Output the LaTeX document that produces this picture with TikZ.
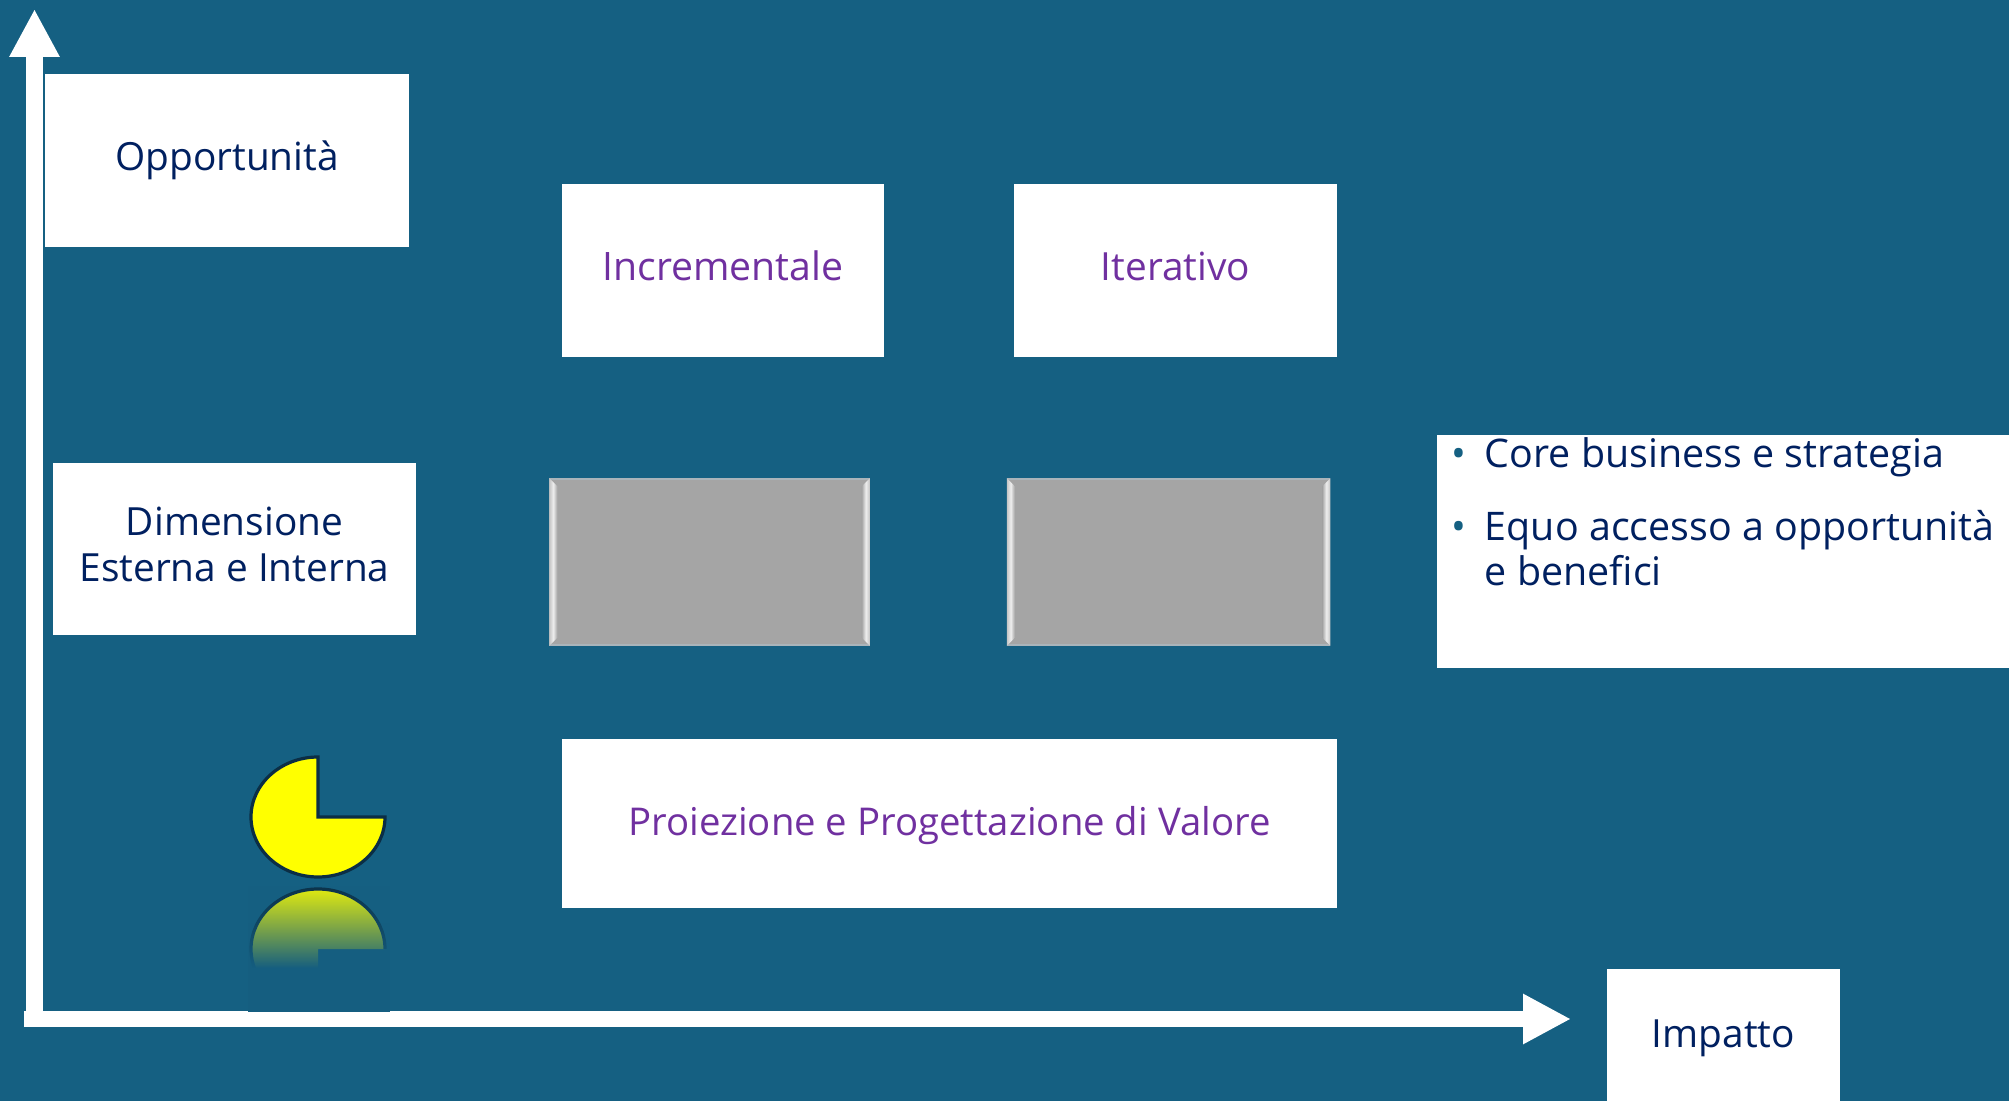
\documentclass[tikz,border=0pt]{standalone}
\usepackage{fontspec}
\setmainfont{Open Sans}
\usetikzlibrary{arrows.meta,fadings}
\definecolor{bgblue}{HTML}{156082}
\definecolor{bgdark}{HTML}{155E80}
\definecolor{navytxt}{HTML}{002060}
\definecolor{purpletxt}{HTML}{7030A0}
\definecolor{pieline}{HTML}{0B2E45}
\definecolor{grayfill}{HTML}{A5A5A5}
\definecolor{grayedge}{HTML}{AAB4BA}
\definecolor{pieyellow}{HTML}{FFFF00}
\definecolor{bevelout}{HTML}{C4C4C4}
\definecolor{bevelmid}{HTML}{EEEEEE}
\newcommand{\boxlabel}[2]{\raisebox{#1}[0pt][0pt]{#2}}
\tikzfading[name=reflfade, top color=transparent!90, bottom color=transparent!0]
\tikzset{
  x=0.5pt, y=-0.5pt,
  whitebox/.style={rectangle, fill=white, inner sep=0pt, font=\fontsize{19.4}{23}\selectfont, text=navytxt, align=center},
  purplebox/.style={whitebox, text=purpletxt},
  graybox/.style={rectangle, fill=grayfill, draw=grayedge, line width=0.75pt, inner sep=0pt, minimum width=159.5pt, minimum height=83pt},
  axisline/.style={draw=white, line width=8.25pt, -{Triangle[width=23.5pt,length=24pt]}},
  bullettext/.style={anchor=base west, inner sep=0pt, font=\fontsize{19.7}{23}\selectfont, text=navytxt},
  bulletmark/.style={anchor=base, inner sep=0pt, font=\fontsize{19.7}{23}\selectfont, text=bgblue},
  piestyle/.style={fill=pieyellow, draw=pieline, line width=1.6pt, line join=miter}
}
\newcommand{\bevels}[1]{%
  \shade[left color=bevelout, right color=grayfill, middle color=bevelmid]
    (#1.north west) -- ([shift={(8,8)}]#1.north west) -- ([shift={(8,-8)}]#1.south west) -- (#1.south west) -- cycle;
  \shade[left color=grayfill, right color=bevelout, middle color=bevelmid]
    (#1.north east) -- ([shift={(-8,8)}]#1.north east) -- ([shift={(-8,-8)}]#1.south east) -- (#1.south east) -- cycle;
}
\begin{document}
\begin{tikzpicture}
\fill[bgblue] (0,0) rectangle (2009,1101);
\useasboundingbox (0,0) rectangle (2009,1101);

% axes
\coordinate (ytip) at (34.5,9);
\coordinate (ybase) at (34.5,1019);
\coordinate (xbase) at (24,1019);
\coordinate (xtip) at (1571,1019);
\draw[axisline] (ybase) -- (ytip);
\draw[axisline] (xbase) -- (xtip);

% white boxes
\node[whitebox, minimum width=182pt, minimum height=86.5pt] (opp) at (227,160.5) {\boxlabel{-5.25pt}{Opportunità}};
\node[purplebox, font=\fontsize{19.6}{23}\selectfont, minimum width=161pt, minimum height=86.5pt] (inc) at (723,270.5) {\boxlabel{-5pt}{Incrementale}};
\node[purplebox, minimum width=161.5pt, minimum height=86.5pt] (ite) at (1175.5,270.5) {\boxlabel{-5pt}{Iterativo}};
\node[whitebox, minimum width=181.5pt, minimum height=86pt] (dim) at (234.5,549) {\boxlabel{-5.5pt}{\begin{tabular}{@{}c@{}}Dimensione\\Esterna e Interna\end{tabular}}};
\node[purplebox, font=\fontsize{19.15}{23}\selectfont, minimum width=387.5pt, minimum height=84.5pt] (pro) at (949.5,823.5) {\boxlabel{-6pt}{Proiezione e Progettazione di Valore}};
\node[whitebox, minimum width=116.5pt, minimum height=66pt] (imp) at (1723.5,1035) {\boxlabel{-6pt}{Impatto}};

% gray bevelled boxes
\node[graybox] (ga) at (709.5,562) {};
\node[graybox, minimum width=161pt] (gb) at (1168.5,562) {};
\bevels{ga}
\bevels{gb}

% right box
\node[whitebox, minimum width=286pt, minimum height=116.5pt] (rb) at (1723,551.5) {};
\node[bulletmark] (b1) at (1459,467.5) {•};
\node[bullettext] (l1) at (1484.5,467.5) {Core business e strategia};
\node[bulletmark] (b2) at (1459,540.5) {•};
\node[bullettext] (l2) at (1484.5,540.5) {Equo accesso a opportunità};
\node[bullettext] (l3) at (1484.5,586) {e benefici};

% reflected pie
\fill[pieyellow] (385,949) .. controls (385,916) and (355,889) .. (318,889)
  .. controls (281,889) and (251,916) .. (251,949)
  .. controls (251,982) and (281,1009) .. (318,1009) -- (318,949) -- cycle;
\draw[pieline, line width=1.6pt] (385,949) .. controls (385,916) and (355,889) .. (318,889)
  .. controls (281,889) and (251,916) .. (251,949)
  .. controls (251,982) and (281,1009) .. (318,1009);
\fill[bgdark, path fading=reflfade] (248,886) rectangle (390,968);
\fill[bgdark] (248,968) rectangle (390,1011.5);

% pie
\draw[piestyle] (318,817) -- (318,757) .. controls (281,757) and (251,784) .. (251,817)
  .. controls (251,850) and (281,877) .. (318,877)
  .. controls (355,877) and (385,850) .. (385,817) -- cycle;
\end{tikzpicture}
\end{document}
